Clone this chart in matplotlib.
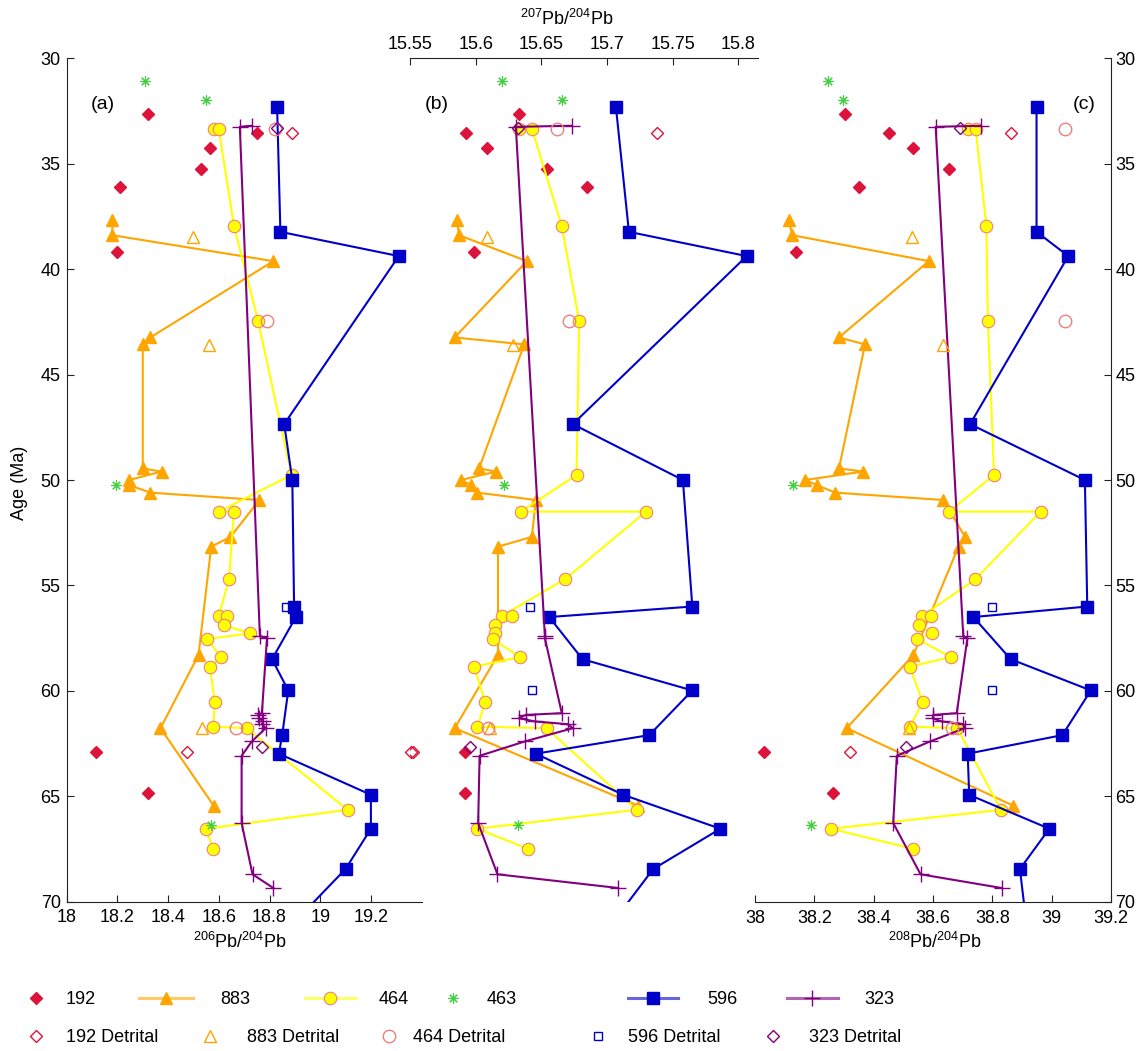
import numpy as np
import matplotlib
matplotlib.use('Agg')
import matplotlib.pyplot as plt
from matplotlib.lines import Line2D
from matplotlib.ticker import FuncFormatter
from matplotlib.colors import to_rgba

plt.rcParams['font.family'] = ['Liberation Sans', 'DejaVu Sans']
plt.rcParams['mathtext.fontset'] = 'custom'
plt.rcParams['mathtext.rm'] = 'Liberation Sans'
plt.rcParams['mathtext.it'] = 'Liberation Sans:italic'

nan = np.nan

# ---- data (age in Ma, lead isotope ratios) ----
age_192 = [32.65, 33.54, 34.25, 35.23, 36.1, 39.2, 62.92, 64.85]
pb206_192 = [18.32, 18.75, 18.565, 18.53, 18.21, 18.20, 18.115, 18.32]
pb207_192 = [15.633, 15.593, 15.609, 15.654, 15.685, 15.599, 15.592, 15.592]
pb208_192 = [38.303, 38.453, 38.534, 38.654, 38.352, 38.138, 38.03, 38.264]

age_883 = [37.68, 38.39, 39.62, 43.24, 43.57, 49.45, 49.6, 50.0, 50.24, 50.6,
           50.95, 52.7, 53.16, 58.3, 61.77, 65.45]
pb206_883 = [18.18, 18.18, 18.815, 18.33, 18.30, 18.30, 18.374, 18.246, 18.246, 18.33,
             18.76, 18.646, 18.57, 18.52, 18.37, 18.58]
pb207_883 = [15.5856, 15.5874, 15.639, 15.584, 15.637, 15.6026, 15.6158, 15.5886, 15.5968, 15.6014,
             15.6458, 15.6428, 15.617, 15.617, 15.584, 15.7238]
pb208_883 = [38.113, 38.126, 38.586, 38.283, 38.371, 38.283, 38.365, 38.169, 38.208, 38.271,
             38.635, 38.708, 38.686, 38.534, 38.309, 38.871]

age_464 = [33.37, 33.37, 37.96, 42.46, 49.76, 51.5, 51.5, 54.7, 56.45, 56.45, 56.9,
           57.27, 57.54, 58.4, 58.85, 60.54, 61.7, 61.77, 65.64, 66.54, 67.5]
pb206_464 = [18.58, 18.60, 18.66, 18.755, 18.887, 18.60, 18.66, 18.64, 18.60, 18.634, 18.62,
             18.725, 18.555, 18.608, 18.565, 18.584, 18.578, 18.71, 19.108, 18.55, 18.578]
pb207_464 = [15.633, 15.643, 15.6656, 15.6788, 15.6768, 15.6344, 15.7296, 15.6682, 15.6199, 15.6275, 15.6145,
             15.6145, 15.613, 15.6339, 15.5988, 15.6072, 15.6014, 15.654, 15.7226, 15.6014, 15.64]
pb208_464 = [38.717, 38.744, 38.78, 38.785, 38.806, 38.654, 38.963, 38.743, 38.564, 38.592, 38.554,
             38.598, 38.547, 38.66, 38.522, 38.565, 38.522, 38.682, 38.829, 38.256, 38.534]

age_463 = [31.07, 31.96, 50.24, 66.35]
pb206_463 = [18.31, 18.55, 18.196, 18.57]
pb207_463 = [15.620, 15.6656, 15.6212, 15.6326]
pb208_463 = [38.245, 38.296, 38.129, 38.188]

age_596 = [32.3, 38.23, 39.38, 47.35, 50.0, 56.0, 56.5, 58.5, 59.98, 62.1, 62.98,
           64.93, 66.54, 68.45, 72.5]
pb206_596 = [18.83, 18.843, 19.31, 18.858, 18.89, 18.897, 18.904, 18.81, 18.874, 18.85, 18.837,
             19.20, 19.20, 19.10, 18.776]
pb207_596 = [15.7068, 15.7167, 15.8064, 15.674, 15.7578, 15.765, 15.656, 15.6814, 15.765, 15.7322, 15.6458,
             15.7124, 15.7863, 15.7352, 15.686]
pb208_596 = [38.949, 38.949, 39.056, 38.725, 39.112, 39.12, 38.736, 38.862, 39.132, 39.036, 38.717,
             38.722, 38.992, 38.893, 38.927]

age_323 = [33.2, 33.25, 57.4, 57.5, 61.06, 61.14, 61.3, 61.45, 61.58, 61.77, 62.4,
           63.08, 66.27, 68.7, 69.35]
pb206_323 = [18.73, 18.683, 18.762, 18.79, 18.77, 18.755, 18.76, 18.775, 18.77, 18.785, 18.73,
             18.69, 18.69, 18.733, 18.815]
pb207_323 = [15.673, 15.6306, 15.6527, 15.6527, 15.6656, 15.638, 15.633, 15.645, 15.670, 15.674, 15.6374,
             15.603, 15.6019, 15.6166, 15.7085]
pb208_323 = [38.7607, 38.609, 38.702, 38.716, 38.68, 38.601, 38.599, 38.629, 38.702, 38.707, 38.59,
             38.478, 38.466, 38.558, 38.831]

# detrital samples
age_192d = [33.54, 62.92, 62.92]
pb206_192d = [18.89, 19.36, 18.476]
pb207_192d = [15.738, 15.552, nan]
pb208_192d = [38.862, 38.32, nan]

age_883d = [38.47, 43.6, 61.77]
pb206_883d = [18.50, 18.56, 18.535]
pb207_883d = [15.6085, 15.6285, 15.611]
pb208_883d = [38.528, 38.633, 38.52]

age_464d = [33.37, 42.46, 61.77]
pb206_464d = [18.82, 18.79, 18.666]
pb207_464d = [15.6623, 15.6712, 15.6095]
pb208_464d = [39.045, 39.045, 38.663]

age_596d = [56.0, 59.98]
pb206_596d = [18.867, 18.87]
pb207_596d = [15.6415, 15.6428]
pb208_596d = [38.799, 38.799]

age_323d = [33.3, 62.64]
pb206_323d = [18.83, 18.77]
pb207_323d = [15.632, 15.596]
pb208_323d = [38.691, 38.509]

age_ticks = [30, 35, 40, 45, 50, 55, 60, 65, 70]
ticks_206 = [18, 18.2, 18.4, 18.6, 18.8, 19, 19.2]
ticks_207 = [15.55, 15.6, 15.65, 15.7, 15.75, 15.8]
ticks_208 = [38, 38.2, 38.4, 38.6, 38.8, 39, 39.2]

# ---- colours / styles ----
RED = '#DC143C'
ORANGE = '#FFA500'
YELLOW = '#FFFF00'
PINK = '#F08080'
GREEN = '#40D040'
BLUE = '#0000C8'
PURPLE = '#800080'

st_192 = dict(ls='none', marker='D', ms=6.2, color=RED)
st_883 = dict(ls='-', lw=1.5, marker='^', ms=8.5, color=ORANGE)
st_464 = dict(ls='-', lw=1.5, color=YELLOW, marker='o', ms=9, mfc=YELLOW, mec=PINK, mew=0.8)
st_463 = dict(ls='none', marker=(8, 2, 0), ms=7.5, color=GREEN, mew=0.8)
st_596 = dict(ls='-', lw=1.5, marker='s', ms=8, color=BLUE)
st_323 = dict(ls='-', lw=1.5, marker='+', ms=11, mew=1, color=PURPLE)
st_192d = dict(ls='none', marker='D', ms=6.2, mfc='none', mec=RED, mew=1)
st_883d = dict(ls='none', marker='^', ms=8.5, mfc='none', mec=ORANGE, mew=1)
st_464d = dict(ls='none', marker='o', ms=9, mfc='none', mec=PINK, mew=1)
st_596d = dict(ls='none', marker='s', ms=5.5, mfc='none', mec=BLUE, mew=1)
st_323d = dict(ls='none', marker='D', ms=6.2, mfc='none', mec=PURPLE, mew=1)

series = [
    (age_192, (pb206_192, pb207_192, pb208_192), st_192),
    (age_883, (pb206_883, pb207_883, pb208_883), st_883),
    (age_464, (pb206_464, pb207_464, pb208_464), st_464),
    (age_463, (pb206_463, pb207_463, pb208_463), st_463),
    (age_596, (pb206_596, pb207_596, pb208_596), st_596),
    (age_323, (pb206_323, pb207_323, pb208_323), st_323),
    (age_192d, (pb206_192d, pb207_192d, pb208_192d), st_192d),
    (age_883d, (pb206_883d, pb207_883d, pb208_883d), st_883d),
    (age_464d, (pb206_464d, pb207_464d, pb208_464d), st_464d),
    (age_596d, (pb206_596d, pb207_596d, pb208_596d), st_596d),
    (age_323d, (pb206_323d, pb207_323d, pb208_323d), st_323d),
]

W, H = 1142, 1051
fig = plt.figure(figsize=(W / 100, H / 100), dpi=100)

Y_TOP, Y_BOT = 58.3, 901.7


def rect(x0, x1):
    return [x0 / W, 1 - Y_BOT / H, (x1 - x0) / W, (Y_BOT - Y_TOP) / H]


ax_a = fig.add_axes(rect(66.7, 421.6))
ax_b = fig.add_axes(rect(410, 758))
ax_c = fig.add_axes(rect(755, 1111))
axes = [ax_a, ax_b, ax_c]

for ax in axes:
    ax.patch.set_visible(False)

for age, xs, st in series:
    for ax, x in zip(axes, xs):
        ax.plot(x, age, **st)

fmt = FuncFormatter(lambda v, p: '%g' % v)
for ax in axes:
    ax.set_ylim(70, 30)
    for s in ax.spines.values():
        s.set_linewidth(0.8)
        s.set_color('#222222')
    ax.tick_params(direction='in', length=5, width=0.8, labelsize=13, colors='#222222',
                   labelcolor='black')

# (a)
ax_a.set_xlim(18, 19.4)
ax_a.spines['top'].set_visible(False)
ax_a.spines['right'].set_visible(False)
ax_a.set_xticks(ticks_206)
ax_a.xaxis.set_major_formatter(fmt)
ax_a.set_yticks(age_ticks)
ax_a.tick_params(axis='x', pad=5.5)
ax_a.tick_params(axis='y', pad=4.3)

# (b)
ax_b.set_xlim(15.55, 15.815)
for k in ['left', 'right', 'bottom']:
    ax_b.spines[k].set_visible(False)
ax_b.xaxis.tick_top()
ax_b.set_xticks(ticks_207)
ax_b.xaxis.set_major_formatter(fmt)
ax_b.tick_params(axis='x', pad=3.5)
ax_b.set_yticks([])

# (c)
ax_c.set_xlim(38, 39.2)
ax_c.spines['top'].set_visible(False)
ax_c.spines['left'].set_visible(False)
ax_c.set_xticks(ticks_208)
ax_c.xaxis.set_major_formatter(fmt)
ax_c.yaxis.tick_right()
ax_c.set_yticks(age_ticks)
ax_c.tick_params(axis='x', pad=6)
ax_c.tick_params(axis='y', pad=3)


def ftext(x, y, s, **kw):
    fig.text(x / W, 1 - y / H, s, ha='center', va='center', **kw)


ftext(567, 19, r'$^{207}$Pb/$^{204}$Pb', fontsize=13)
ftext(240, 942, r'$^{206}$Pb/$^{204}$Pb', fontsize=13)
ftext(935, 942, r'$^{208}$Pb/$^{204}$Pb', fontsize=13)
ftext(20, 483, 'Age (Ma)', fontsize=13, rotation=90)
ftext(103, 104, '(a)', fontsize=14)
ftext(437, 104, '(b)', fontsize=14)
ftext(1084, 104, '(c)', fontsize=14)


# ---- legend: one small legend per entry, placed like the original ----
def proxy(st, line_alpha=0.6):
    kw = dict(st)
    col = kw.pop('color', None)
    if col is not None:
        kw.setdefault('mfc', col)
        kw.setdefault('mec', col)
        kw['color'] = to_rgba(col, line_alpha)
    if kw.get('ls', '-') != 'none':
        kw['lw'] = 2.2
    return Line2D([], [], **kw)


FS = 13
legend_rows = [
    # style, label, left x of handle, handle length, text pad, row y
    (st_192, '192', 27, 1.0, 1.16, 1000),
    (st_883, '883', 139, 2.99, 1.5, 1000),
    (st_464, '464', 305, 2.82, 1.27, 1000),
    (st_463, '463', 444, 1.0, 1.38, 1000),
    (st_596, '596', 628, 2.77, 1.6, 1000),
    (st_323, '323', 787, 2.82, 1.44, 1000),
    (st_192d, '192 Detrital', 27, 1.0, 1.16, 1038),
    (st_883d, '883 Detrital', 201, 1.0, 1.55, 1038),
    (st_464d, '464 Detrital', 380, 1.0, 0.83, 1038),
    (st_596d, '596 Detrital', 589, 1.0, 1.16, 1038),
    (st_323d, '323 Detrital', 764, 1.0, 1.5, 1038),
]
for st, lab, x0, hl, tp, y in legend_rows:
    fig.legend([proxy(st)], [lab], loc='center left',
               bbox_to_anchor=(x0 / W, 1 - y / H), frameon=False,
               borderpad=0, borderaxespad=0, handlelength=hl,
               handletextpad=tp, numpoints=1, fontsize=FS)

fig.savefig('out.png', dpi=100)
